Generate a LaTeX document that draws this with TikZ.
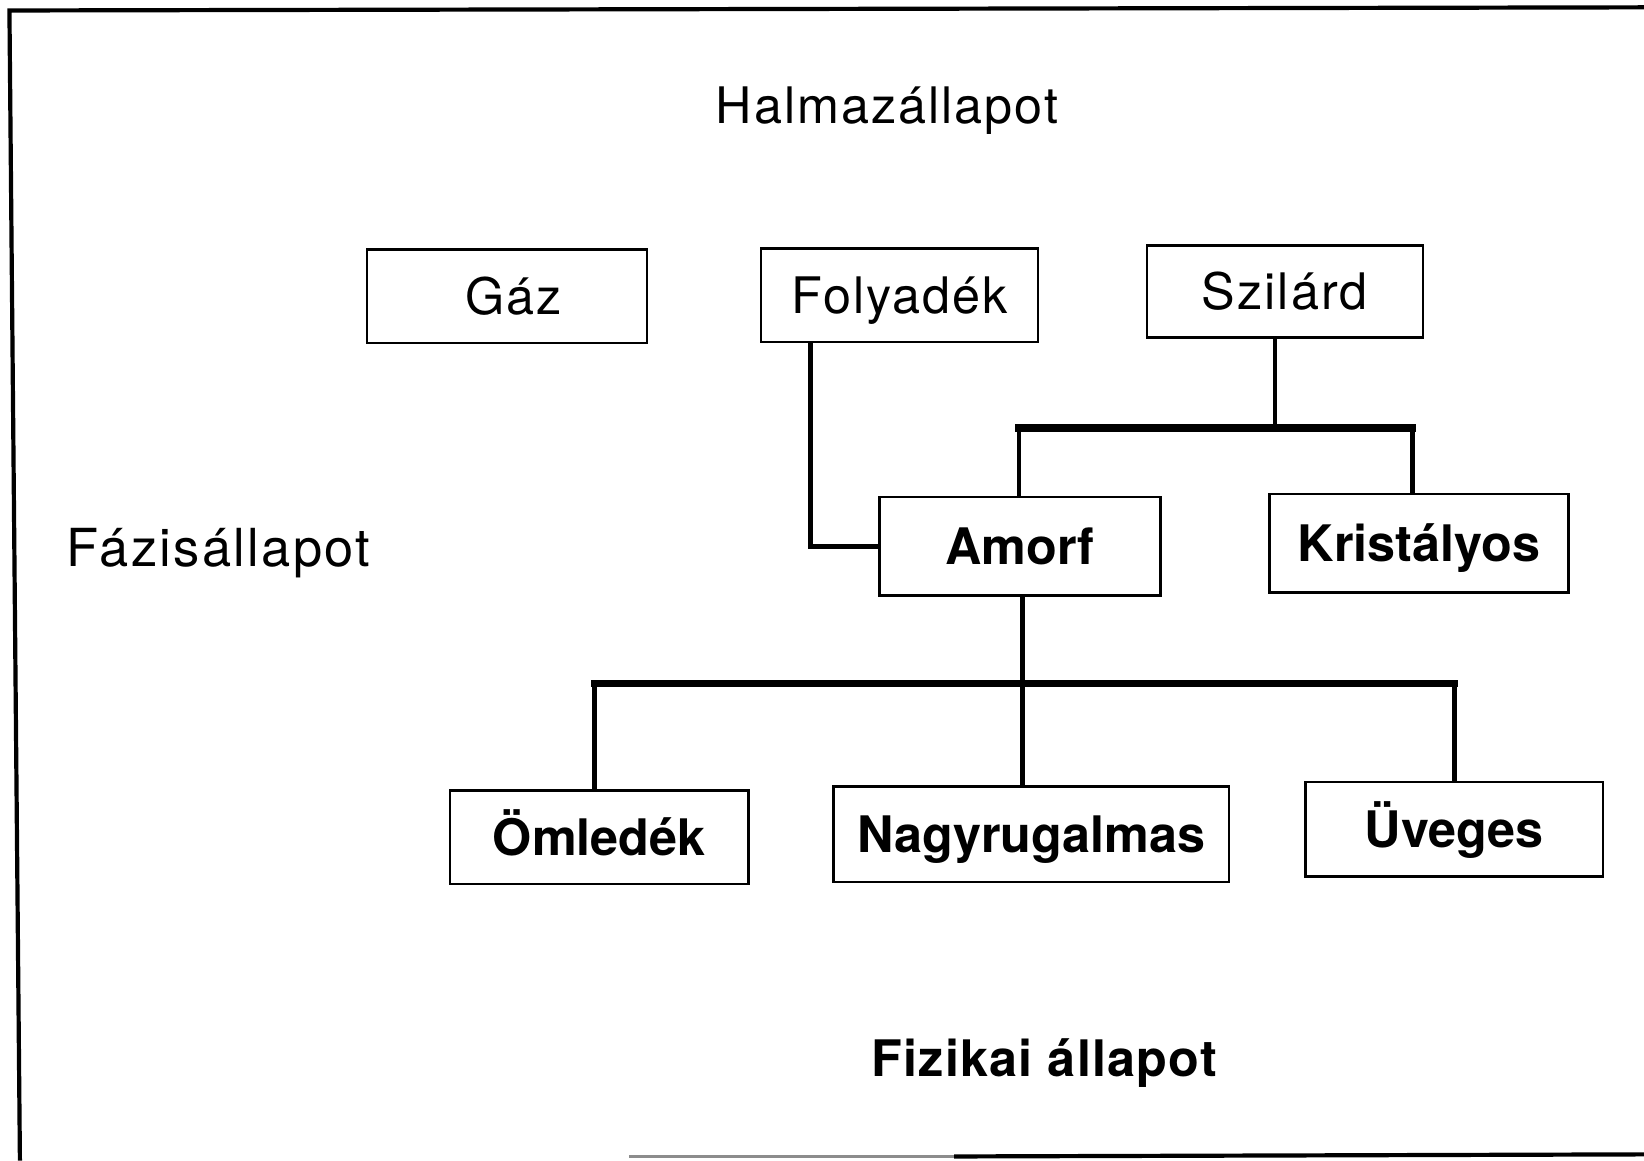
\documentclass[tikz,border=0pt]{standalone}
\usepackage{fontspec}
\setmainfont{TeX Gyre Heros}
\newfontfamily\regfont[LetterSpace=4]{TeX Gyre Heros}
\newfontfamily\widefont[LetterSpace=4.5]{TeX Gyre Heros}
\newfontfamily\boldwide[LetterSpace=2.5]{TeX Gyre Heros Bold}
\tikzset{
  box/.style={draw, line width=1.2pt, inner sep=0pt, text height=17.2pt, text depth=0pt,
              font=\fontsize{24}{28}\selectfont\bfseries},
  regbox/.style={box, font=\fontsize{24}{28}\selectfont\regfont},
  stem/.style={line width=2.2pt},
  bar/.style={line width=3.6pt, line cap=rect},
  lbl/.style={inner sep=0pt, anchor=base},
  frame/.style={line width=2pt}
}
\begin{document}
\begin{tikzpicture}[x=0.5pt, y=-0.5pt]
\useasboundingbox (0,0) rectangle (1568,1107);
% frame
\draw[frame] (1568,7) -- (9,10) -- (19,1107);
\draw[line width=1pt, black!45] (600,1103) -- (910,1103);
\draw[frame] (910,1103) -- (1568,1101);
% titles
\node[lbl, font=\fontsize{24}{28}\selectfont\regfont] (halmaz) at (846,118) {Halmazállapot};
\node[lbl, anchor=base west, font=\fontsize{25}{28}\selectfont\widefont] (fazis) at (63,540) {Fázisállapot};
\node[lbl, font=\fontsize{24}{28}\selectfont\boldwide] (fizikai) at (996,1027) {Fizikai állapot};
% boxes
\node[regbox, minimum width=133.5pt, minimum height=44.5pt] (gaz) at (483.5,282.5) {\hspace*{6pt}Gáz};
\node[regbox, minimum width=132pt, minimum height=44.5pt] (folyadek) at (858,281.5) {Folyadék};
\node[regbox, minimum width=131.5pt, minimum height=44pt] (szilard) at (1225.5,278) {Szilárd};
\node[box, minimum width=134pt, minimum height=47pt] (amorf) at (973,521) {Amorf};
\node[box, minimum width=142.5pt, minimum height=47pt] (kristalyos) at (1353.5,518) {Kristályos};
\node[box, minimum width=142.5pt, minimum height=44.5pt] (omledek) at (571.5,798.5) {Ömledék};
\node[box, minimum width=188.5pt, minimum height=45.5pt] (nagy) at (983.5,795.5) {Nagyrugalmas};
\node[box, minimum width=142pt, minimum height=45pt] (uveges) at (1387,791) {Üveges};
% junction coordinates
\coordinate (fb) at (773,521);
\coordinate (sb) at (1216,408);
\coordinate (sl) at (972,408);
\coordinate (sr) at (1347,408);
\coordinate (ab) at (975,652);
\coordinate (al) at (567,652);
\coordinate (ar) at (1387,652);
% connectors
\draw[stem, line join=miter] (folyadek.south -| fb) -- (fb) -- (amorf.west);
\draw[stem] (szilard.south -| sb) -- (sb);
\draw[bar] (sl) -- (sr);
\draw[stem] (sl) -- (amorf.north -| sl);
\draw[stem] (sr) -- (kristalyos.north -| sr);
\draw[stem] (amorf.south -| ab) -- (nagy.north -| ab);
\draw[bar] (al) -- (ar);
\draw[stem] (al) -- (omledek.north -| al);
\draw[stem] (ar) -- (uveges.north -| ar);
\end{tikzpicture}
\end{document}
